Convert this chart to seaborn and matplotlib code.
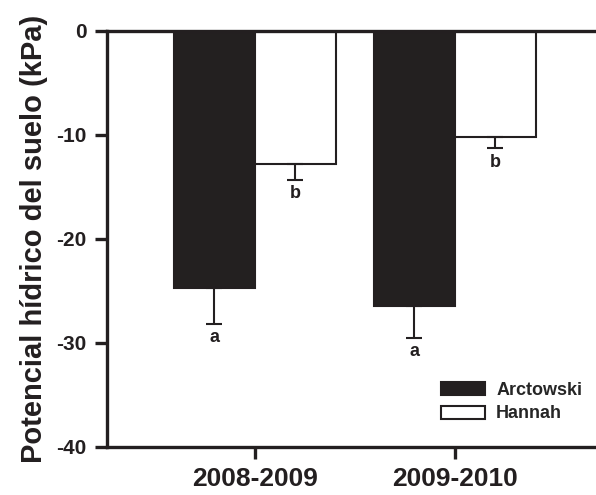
import numpy as np
import pandas as pd
import matplotlib.pyplot as plt
import seaborn as sns
from matplotlib.patches import Patch

periods = ["2008-2009", "2009-2010"]
sites = ["Arctowski", "Hannah"]
arctowski = [-24.7, -26.4]
hannah = [-12.8, -10.2]
arctowski_err = [3.5, 3.1]
hannah_err = [1.5, 1.1]
letters_arc = ["a", "a"]
letters_han = ["b", "b"]

df = pd.DataFrame({
    "period": periods * 2,
    "site": [sites[0]] * 2 + [sites[1]] * 2,
    "value": arctowski + hannah,
    "err": arctowski_err + hannah_err,
    "letter": letters_arc + letters_han,
})

sns.set_style("ticks")
plt.rcParams['font.family'] = ['Liberation Sans', 'DejaVu Sans']

fig = plt.figure(figsize=(5.96, 4.95), dpi=100)
ax = fig.add_axes([0.1795, 0.097, 0.8205, 0.8405])

sns.barplot(data=df, x="period", y="value", hue="site", hue_order=sites,
            order=periods, palette=["#231f20", "white"], edgecolor="#231f20",
            linewidth=1.5, errorbar=None, width=0.81, ax=ax, legend=False)

# one-sided error bars + letters, placed from the drawn bars
for bar, (_, row) in zip(ax.patches, df.iterrows()):
    xc = bar.get_x() + bar.get_width() / 2
    y = bar.get_height()
    ax.errorbar(xc, y, yerr=[[row["err"]], [0]], fmt="none", ecolor="#231f20",
                elinewidth=1.5, capsize=5.5, capthick=1.5)
    ax.text(xc, y - row["err"] - 0.5, row["letter"], ha="center", va="top",
            fontsize=13, fontweight="bold", color="#231f20")

ax.set_ylim(-40, 0)
ax.set_xlim(-0.74, 1.705)
ax.set_yticks([0, -10, -20, -30, -40])
ax.set_yticklabels(["0", "-10", "-20", "-30", "-40"])
ax.set_xlabel("")
ax.set_ylabel("Potencial hídrico del suelo (kPa)", fontsize=21,
              fontweight="bold", color="#231f20", labelpad=6)

for side in ["left", "bottom", "top"]:
    ax.spines[side].set_linewidth(2.4)
    ax.spines[side].set_color("#231f20")
ax.spines["right"].set_visible(False)

ax.tick_params(axis="y", direction="out", length=8.5, width=2.4, labelsize=15,
               colors="#231f20", pad=6)
ax.tick_params(axis="x", direction="out", length=8.5, width=2.4, labelsize=19,
               colors="#231f20", pad=6)
for lbl in ax.get_xticklabels() + ax.get_yticklabels():
    lbl.set_fontweight("bold")

handles = [Patch(facecolor="#231f20", edgecolor="#231f20", linewidth=1.5),
           Patch(facecolor="white", edgecolor="#231f20", linewidth=1.5)]
leg = ax.legend(handles, sites, loc="lower right", bbox_to_anchor=(1.005, 0.02),
                frameon=False, handlelength=2.45, handleheight=0.75,
                handletextpad=0.6, labelspacing=0.35,
                prop={"size": 13, "weight": "bold"})

fig.savefig("out.png", dpi=100)
